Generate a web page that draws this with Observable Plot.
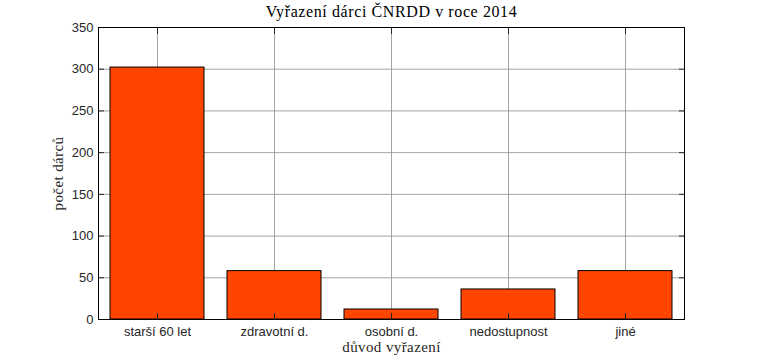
<!DOCTYPE html>
<html>
<head>
<meta charset="utf-8">
<script src="https://cdn.jsdelivr.net/npm/d3@7"></script>
<script src="https://cdn.jsdelivr.net/npm/@observablehq/plot@0.6"></script>
<style>
  html, body { margin: 0; padding: 0; background: #fff; }
  #chart svg { display: block; }
</style>
</head>
<body>
<div id="chart"></div>
<script>
const categories = ["starší 60 let", "zdravotní d.", "osobní d.", "nedostupnost", "jiné"];
const counts = [302, 58, 12, 36, 58];
const yTicks = [0, 50, 100, 150, 200, 250, 300, 350];
const titleText = "Vyřazení dárci ČNRDD v roce 2014";
const xLabel = "důvod vyřazení";
const yLabel = "počet dárců";

const data = categories.map((c, i) => ({category: c, count: counts[i]}));
const serif = "'Liberation Serif', 'Times New Roman', serif";
const sans = "'Liberation Sans', Arial, sans-serif";

const chart = Plot.plot({
  width: 757,
  height: 360,
  marginLeft: 98,
  marginRight: 73,
  marginTop: 27,
  marginBottom: 41,
  style: {fontFamily: sans, fontSize: "13px", color: "#262626", background: "#fff"},
  x: {domain: categories, paddingInner: 0.2, paddingOuter: 0.1, label: null},
  y: {domain: [0, 350], label: null},
  marks: [
    Plot.gridX({stroke: "#8c8c8c", strokeOpacity: 0.8}),
    Plot.gridY(yTicks, {stroke: "#8c8c8c", strokeOpacity: 0.8}),
    Plot.barY(data, {x: "category", y: "count", fill: "#ff4500", stroke: "#000", strokeWidth: 1}),
    Plot.axisY(yTicks, {tickSize: 0, tickPadding: 5, fontSize: 13, label: null}),
    Plot.axisY(yTicks, {anchor: "left", tickSize: -6, tickFormat: () => "", label: null}),
    Plot.axisY(yTicks, {anchor: "right", tickSize: -6, tickFormat: () => "", label: null}),
    Plot.axisX({tickSize: 0, tickPadding: 7, fontSize: 13, label: null}),
    Plot.axisX({anchor: "bottom", tickSize: -6, tickFormat: () => "", label: null}),
    Plot.axisX({anchor: "top", tickSize: -6, tickFormat: () => "", label: null}),
    Plot.frame({stroke: "#000", strokeWidth: 1}),
    Plot.text([titleText], {frameAnchor: "top", dy: -11, fontFamily: serif, fontSize: 16, fill: "#000", lineAnchor: "bottom"}),
    Plot.text([xLabel], {frameAnchor: "bottom", dy: 32, fontFamily: serif, fontSize: 15, fill: "#262626", lineAnchor: "bottom"}),
    Plot.text([yLabel], {frameAnchor: "left", dx: -36, rotate: -90, textAnchor: "middle", fontFamily: serif, fontSize: 15, fill: "#262626", lineAnchor: "bottom"})
  ]
});
const spacing = new Map([[titleText, "0.6px"], [xLabel, "0.4px"], [yLabel, "0.4px"]]);
d3.select(chart).selectAll("text").each(function() {
  const s = spacing.get(this.textContent);
  if (s) this.setAttribute("letter-spacing", s);
});
document.getElementById("chart").append(chart);
</script>
</body>
</html>
